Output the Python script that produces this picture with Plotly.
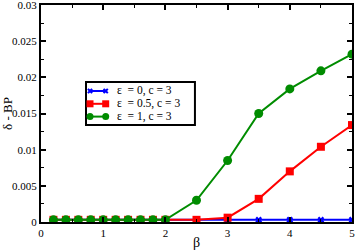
import plotly.graph_objects as go

beta = [0.2, 0.4, 0.6, 0.8, 1.0, 1.2, 1.4, 1.6, 1.8, 2.0, 2.5, 3.0, 3.5, 4.0, 4.5, 5.0]
eps0 = [0.0003] * 16
eps05 = [0.0003] * 10 + [0.0003, 0.0006, 0.0032, 0.0070, 0.0104, 0.0134]
eps1 = [0.0003] * 10 + [0.0030, 0.0085, 0.0150, 0.0184, 0.0209, 0.0232]
names = ["ε  = 0, c = 3", "ε  = 0.5, c = 3", "ε  = 1, c = 3"]
colors = ["#0000ff", "#ff0000", "#008c00"]
symbols = ["x", "square", "circle"]
sizes = [6, 8, 9]
legend_sizes = [5, 7, 7]

font = "Liberation Serif"
fig = go.Figure()
for ys, nm, c, s, sz in zip([eps0, eps05, eps1], names, colors, symbols, sizes):
    fig.add_trace(go.Scatter(x=beta, y=ys, mode="lines+markers", name=nm, showlegend=False,
                             line=dict(color=c, width=2),
                             marker=dict(symbol=s, size=sz, color=c)))

# manual compact legend (paper-like overlay axes)
box = dict(x0=0.1447, x1=0.495, y0=0.447, y1=0.645)
rows = [0.6037, 0.5447, 0.4857]
sx = [0.1576, 0.208]
tx = 0.240
fig.add_shape(type="rect", xref="paper", yref="paper", layer="below",
              fillcolor="white", line=dict(color="black", width=2), **box)
for ry, nm, c, s, lsz in zip(rows, names, colors, symbols, legend_sizes):
    fig.add_trace(go.Scatter(x=sx, y=[ry, ry], xaxis="x2", yaxis="y2", mode="lines+markers",
                             showlegend=False, hoverinfo="skip", cliponaxis=False,
                             line=dict(color=c, width=2), marker=dict(symbol=s, size=lsz, color=c)))
    fig.add_annotation(x=tx, y=ry, xref="paper", yref="paper", text=nm, showarrow=False,
                       xanchor="left", yanchor="middle", borderpad=0,
                       font=dict(family=font, size=11.5, color="black"))

axis_common = dict(showgrid=False, zeroline=False, showline=True, linecolor="black",
                   linewidth=2, mirror="allticks", ticks="inside", ticklen=5, tickwidth=1.5,
                   tickcolor="black", automargin=False, ticklabeloverflow="allow",
                   tickfont=dict(family=font, size=11, color="black"))
fig.update_layout(
    xaxis=dict(range=[0, 5], dtick=1, tick0=0,
               minor=dict(dtick=0.5, ticks="inside", ticklen=3, tickcolor="black", tickwidth=1),
               title=dict(text="β", font=dict(family=font, size=14, color="black"), standoff=2),
               **axis_common),
    yaxis=dict(range=[0, 0.03], dtick=0.005, tick0=0, tickformat="~g",
               minor=dict(dtick=0.0025, ticks="inside", ticklen=3, tickcolor="black", tickwidth=1),
               title=dict(text="δ\u00a0-\u00a0BP", font=dict(family=font, size=13, color="black"), standoff=4),
               **axis_common),
    xaxis2=dict(overlaying="x", range=[0, 1], visible=False, fixedrange=True),
    yaxis2=dict(overlaying="y", range=[0, 1], visible=False, fixedrange=True),
)
fig.update_layout(width=357, height=250, margin=dict(l=41, r=5, t=5, b=28, autoexpand=False),
                  plot_bgcolor="white", paper_bgcolor="white", showlegend=False)
fig.write_html("out.html", config={"displayModeBar": False},
               post_script="document.body.style.margin='0';")
